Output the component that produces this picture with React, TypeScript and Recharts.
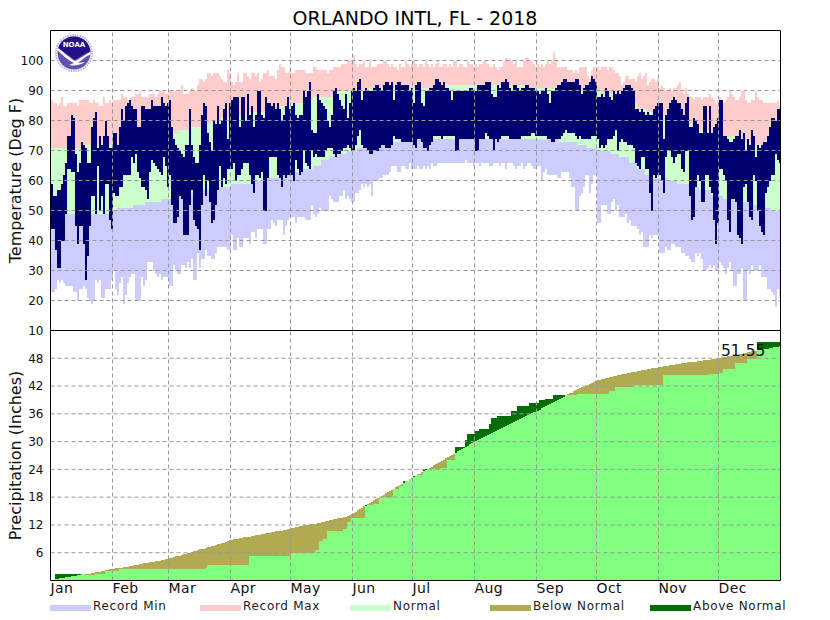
import React from "react";
import { Area, ComposedChart, ReferenceLine, XAxis, YAxis } from "recharts";

const monthLabels = ["Jan", "Feb", "Mar", "Apr", "May", "Jun", "Jul", "Aug", "Sep", "Oct", "Nov", "Dec"];
const monthStarts = [0, 31, 59, 90, 120, 151, 181, 212, 243, 273, 304, 334];
const tempTicks = [10, 20, 30, 40, 50, 60, 70, 80, 90, 100];
const precipTicks = [6, 12, 18, 24, 30, 36, 42, 48];
const legendLabels = ["Record Min", "Record Max", "Normal", "Below Normal", "Above Normal"];

// daily values, one line per month
const recordMax = [
  87,86,86,85,86,88,85,85,86,86,86,86,86,85,87,87,87,87,87,86,86,87,86,86,85,85,88,86,86,87,86,
  87,87,87,87,89,88,88,87,87,88,88,89,89,90,88,88,88,88,89,89,89,88,89,90,90,90,89,89,
  90,90,90,90,90,90,92,89,89,89,90,91,90,90,92,94,94,93,94,96,96,95,96,96,96,95,94,93,93,97,96,
  93,92,93,96,93,93,96,96,95,94,96,96,95,96,93,94,96,96,97,95,95,95,94,97,99,98,98,96,96,97,
  96,96,97,97,97,97,97,96,96,96,96,98,98,97,97,97,97,97,96,97,97,98,98,98,98,99,99,99,100,100,100,
  102,99,98,99,99,100,98,98,100,98,98,98,99,99,99,100,100,99,98,99,98,98,97,99,98,98,100,99,98,99,
  100,99,98,99,99,98,100,99,98,99,98,99,100,98,98,99,99,98,99,98,100,100,98,99,99,98,98,100,99,99,98,
  99,98,99,99,100,100,99,98,98,99,98,97,98,98,100,101,100,101,100,99,100,98,98,98,100,101,101,100,100,99,98,
  99,98,99,98,99,100,99,100,103,101,98,98,98,98,98,97,97,97,96,97,96,98,98,98,98,95,94,97,98,97,
  98,97,98,98,98,97,98,98,97,96,96,95,92,93,95,95,94,94,94,93,95,96,94,95,96,92,93,94,94,93,94,
  91,92,91,90,90,91,90,91,91,92,93,90,89,91,89,88,88,87,88,88,88,87,88,88,88,89,88,87,86,87,
  88,87,86,87,88,90,89,88,87,87,88,90,90,87,86,86,87,87,90,88,87,87,86,86,86,86,86,86,86,87,85,
];
const recordMin = [
  23,23,24,27,26,27,26,25,25,25,25,23,23,20,24,24,25,24,21,20,19,20,27,26,27,21,21,24,24,24,27,
  30,24,22,26,28,19,22,26,28,29,29,20,20,20,28,25,27,33,33,33,30,29,28,29,27,28,28,28,
  25,25,32,30,29,29,32,32,31,33,31,34,27,27,36,31,34,34,37,35,35,34,34,36,38,38,38,38,38,37,37,
  42,37,37,41,38,38,41,41,41,39,43,43,41,44,44,44,39,39,44,44,47,46,45,47,47,47,42,45,47,48,
  48,48,46,48,48,48,48,47,47,47,52,49,48,49,51,50,50,50,50,55,54,53,53,53,55,55,57,54,55,54,53,
  53,56,56,57,59,58,59,58,59,55,60,60,60,61,61,62,62,62,63,65,65,65,63,63,65,65,64,64,66,64,
  64,64,65,64,64,65,64,65,64,66,65,65,66,66,66,66,66,66,66,66,66,66,66,66,66,66,67,66,66,66,65,
  66,66,65,66,66,66,66,65,65,66,66,66,65,66,66,64,66,66,66,65,64,65,65,66,64,65,66,66,65,64,64,
  65,65,60,63,64,62,62,62,62,62,61,61,63,63,63,63,61,58,58,50,50,55,56,58,62,62,56,59,62,62,
  46,46,52,52,52,49,49,53,54,50,52,48,48,48,49,46,47,45,45,45,44,42,43,38,38,38,42,41,42,42,42,
  36,36,36,38,37,37,39,39,38,38,38,36,36,35,35,34,33,33,36,35,36,34,30,30,31,32,31,32,30,30,
  33,32,31,29,31,33,30,25,25,29,29,31,20,20,30,29,32,30,30,30,32,28,28,28,24,24,23,22,18,24,21,
];
const observedHigh = [
  59,55,55,57,57,59,62,66,75,75,82,81,69,63,66,73,72,71,66,66,78,81,83,71,75,72,75,80,75,71,71,
  76,76,72,78,84,80,85,86,87,85,84,84,78,78,85,85,84,84,84,87,85,85,85,85,88,86,85,86,
  87,78,74,72,71,70,69,68,72,72,84,72,68,66,66,72,82,86,85,76,73,70,80,79,85,79,80,84,86,74,86,
  87,88,88,88,78,88,88,80,89,82,85,78,82,90,90,82,81,88,86,86,85,86,84,86,84,80,82,85,88,84,
  85,86,82,81,82,82,90,88,90,93,77,76,76,89,87,86,85,84,80,78,82,90,91,89,87,85,84,89,81,86,90,
  91,90,93,94,87,90,91,90,90,90,91,92,92,91,90,92,93,93,92,93,87,92,93,93,92,92,92,92,90,91,
  86,92,93,93,86,85,90,90,91,91,92,94,94,93,92,93,91,91,90,87,90,90,90,90,90,90,90,90,91,91,90,
  90,92,92,92,92,93,93,93,89,88,88,92,91,93,93,94,93,91,90,92,92,91,90,91,91,92,92,91,91,91,90,
  90,89,90,90,91,89,86,90,90,91,92,92,93,94,94,93,93,93,93,94,94,92,89,91,92,92,93,95,94,93,
  88,88,89,88,91,90,88,87,90,89,90,89,90,91,92,92,92,91,90,84,84,83,84,83,82,83,82,82,84,85,86,
  86,86,74,82,84,86,87,88,87,86,86,84,82,86,88,78,78,81,80,79,76,76,85,85,76,85,76,78,79,81,
  87,87,75,75,74,73,73,74,75,75,77,74,76,70,74,72,77,75,68,72,71,72,73,73,75,78,81,81,80,84,84,
];
const observedLow = [
  44,44,37,31,31,40,40,49,64,64,63,63,45,39,45,45,39,27,35,45,55,55,49,65,50,55,49,59,59,47,44,
  56,55,55,58,58,62,62,62,62,68,66,69,63,61,58,58,57,54,63,67,66,65,64,63,62,68,65,58,
  62,52,46,46,48,55,54,42,42,42,52,57,47,45,44,37,52,62,55,60,53,46,47,52,57,65,58,61,59,64,64,
  64,66,60,62,62,64,66,66,66,62,59,56,62,62,61,63,50,50,61,68,68,68,68,62,61,58,62,61,62,62,
  62,60,67,64,62,63,70,66,65,64,70,68,69,68,68,68,68,70,71,71,71,69,68,69,69,70,71,71,72,71,70,
  70,72,75,77,72,71,71,70,69,69,70,70,70,71,72,72,71,71,71,72,75,74,74,74,73,73,73,73,73,73,
  72,71,74,74,73,71,71,70,72,73,75,75,75,75,74,75,75,75,75,75,75,70,70,74,74,74,74,74,74,74,74,
  70,70,74,74,74,76,75,74,74,70,74,73,74,75,75,75,75,74,74,74,74,74,74,75,75,75,75,75,76,76,75,
  75,75,75,75,75,74,74,73,73,74,74,74,75,76,77,76,76,76,76,75,74,75,74,74,74,74,74,75,75,75,
  74,71,72,71,72,74,74,74,75,77,70,73,74,73,73,72,72,72,71,66,65,64,68,68,64,64,56,50,62,61,62,
  62,60,56,68,70,70,68,66,68,69,69,64,63,70,70,55,47,48,58,62,60,53,53,62,62,58,56,47,39,46,
  64,64,62,60,47,43,54,54,53,42,41,39,58,59,53,48,47,62,60,50,45,43,42,56,58,60,62,62,69,67,66,
];
// [last day of the step, value]
const normalHighSteps = [
  [14,71],[33,72],[40,73],[48,74],[55,75],[62,76],[68,77],[74,78],[79,79],[84,80],[91,81],[98,82],
  [106,83],[113,84],[118,85],[125,86],[130,87],[142,88],[158,90],[190,91],[238,92],[252,91],[274,90],
  [283,89],[289,88],[292,86],[297,84],[301,83],[306,82],[311,81],[316,80],[321,79],[323,78],[329,77],
  [335,76],[341,75],[345,74],[350,73],[364,72],
];
const normalLowSteps = [
  [7,50],[30,49],[32,50],[40,51],[46,52],[54,53],[59,54],[65,55],[70,56],[81,57],[89,58],[99,59],
  [107,60],[115,61],[120,62],[125,63],[130,64],[134,65],[138,67],[143,68],[147,69],[152,70],[158,71],
  [167,72],[175,73],[253,74],[262,73],[267,72],[272,71],[279,70],[283,69],[288,68],[292,66],[296,64],
  [300,62],[307,61],[312,60],[318,59],[323,58],[329,57],[335,55],[343,54],[349,53],[355,52],[359,51],[364,50],
];
const normalPrecip = [
  0.1,0.2,0.3,0.4,0.5,0.5,0.6,0.7,0.8,0.8,0.9,1.0,1.0,1.1,1.2,1.3,1.3,1.4,1.5,1.5,1.6,1.7,1.8,1.9,1.9,2.0,2.1,2.2,2.3,2.4,2.4,
  2.5,2.6,2.7,2.7,2.8,2.9,3.0,3.0,3.1,3.2,3.3,3.4,3.4,3.5,3.6,3.7,3.7,3.8,3.9,4.0,4.1,4.2,4.2,4.3,4.4,4.5,4.6,4.7,
  4.8,4.9,5.0,5.2,5.3,5.4,5.5,5.7,5.8,5.9,6.0,6.2,6.3,6.4,6.5,6.7,6.8,6.9,7.0,7.2,7.3,7.4,7.5,7.6,7.8,7.9,8.0,8.2,8.3,8.5,8.7,
  8.8,8.9,9.0,9.0,9.1,9.2,9.3,9.4,9.5,9.5,9.6,9.7,9.8,9.9,9.9,10.0,10.1,10.2,10.3,10.3,10.4,10.5,10.6,10.7,10.8,10.8,10.9,11.0,11.1,11.2,
  11.3,11.4,11.5,11.6,11.7,11.8,11.9,12.0,12.0,12.1,12.2,12.3,12.3,12.4,12.5,12.6,12.7,12.8,12.9,13.0,13.1,13.2,13.3,13.4,13.5,13.6,13.7,13.8,13.9,14.1,14.3,
  14.6,14.9,15.2,15.4,15.7,16.0,16.2,16.5,16.7,17.0,17.3,17.5,17.8,18.0,18.3,18.5,18.8,19.1,19.3,19.6,19.8,20.1,20.4,20.6,20.9,21.1,21.4,21.6,21.9,22.1,
  22.4,22.6,22.9,23.1,23.4,23.6,23.9,24.1,24.4,24.6,24.9,25.1,25.4,25.6,25.9,26.1,26.4,26.6,26.9,27.1,27.4,27.6,27.9,28.1,28.4,28.6,28.9,29.1,29.4,29.6,29.9,
  30.1,30.3,30.6,30.8,31.0,31.2,31.4,31.6,31.8,32.1,32.3,32.5,32.7,32.9,33.1,33.3,33.6,33.8,34.0,34.2,34.4,34.6,34.8,35.1,35.3,35.5,35.7,35.9,36.1,36.3,36.5,
  36.7,36.9,37.2,37.4,37.6,37.9,38.1,38.3,38.6,38.8,39.0,39.3,39.5,39.7,40.0,40.2,40.4,40.6,40.9,41.1,41.3,41.5,41.7,41.9,42.1,42.3,42.5,42.7,42.9,43.1,
  43.3,43.4,43.5,43.6,43.7,43.8,43.9,44.0,44.1,44.2,44.3,44.4,44.5,44.6,44.7,44.8,44.9,45.0,45.0,45.1,45.2,45.3,45.4,45.5,45.5,45.6,45.7,45.8,45.9,45.9,46.0,
  46.1,46.2,46.3,46.3,46.4,46.5,46.5,46.6,46.7,46.7,46.8,46.9,46.9,47.0,47.1,47.1,47.2,47.2,47.3,47.4,47.4,47.5,47.6,47.6,47.7,47.7,47.8,47.9,47.9,48.0,
  48.1,48.2,48.3,48.3,48.4,48.5,48.6,48.7,48.8,48.8,48.9,49.0,49.1,49.2,49.3,49.4,49.5,49.5,49.6,49.7,49.8,49.9,49.9,50.0,50.1,50.2,50.3,50.4,50.4,50.5,50.6,
];
const actualPrecipSteps = [
  [1,0],[16,1.3],[21,1.25],[26,1.4],[33,2.0],[76,2.45],[77,2.6],[98,3.3],[110,5.2],[119,5.4],[131,6.0],[133,6.6],
  [135,8.6],[137,8.9],[145,10.8],[147,11.2],[149,12.6],[156,13.4],[160,16.3],[163,16.6],[170,18.0],[173,19.7],[175,20.5],
  [178,21.6],[180,21.9],[182,22.5],[185,22.7],[194,24.0],[197,24.3],[201,26.1],[206,28.9],[207,30.4],[211,31.7],[213,32.4],
  [218,32.8],[219,33.7],[222,35.1],[229,35.6],[232,36.7],[238,37.6],[243,38.3],[246,39.0],[250,39.3],[262,40.0],[278,40.2],
  [281,41.0],[290,41.75],[305,42.3],[317,44.3],[328,44.4],[333,44.6],[335,44.8],[341,45.7],[347,46.9],[352,47.9],[364,51.55],
];

const stepAt = (steps: number[][], day: number) => {
  const step = steps.find((s) => day <= s[0]);
  return step ? step[1] : steps[steps.length - 1][1];
};

// one extra row so the last day keeps its full width
const dayCount = 365;
const tempRows = Array.from({ length: dayCount + 1 }, (_, i) => {
  const d = Math.min(i, dayCount - 1);
  const nh = stepAt(normalHighSteps, d);
  const nl = stepAt(normalLowSteps, d);
  return {
    day: i,
    low: [recordMin[d], nl],
    normal: [nl, nh],
    high: [nh, recordMax[d]],
    observed: [observedLow[d], observedHigh[d]],
  };
});
const precipRows = Array.from({ length: dayCount + 1 }, (_, i) => {
  const d = Math.min(i, dayCount - 1);
  const actual = stepAt(actualPrecipSteps, d);
  return { day: i, actual, normal: normalPrecip[d], both: Math.min(actual, normalPrecip[d]) };
});

const FONT = "'DejaVu Sans', sans-serif";
const GRID = "#999999";
const DASH = "4 3";
const legendColors = ["#CCCCFF", "#FFCCCC", "#CCFFCC", "#B0AA50", "#006E00"];
const legendX = [50, 200, 350, 490, 650];

const tickStyle = { fontSize: 12, fill: "#111", fontFamily: FONT };

const MonthTick = ({ x, payload }: any) => (
  <text x={x} y={263} fontSize={14} letterSpacing={0.4} fill="#111" fontFamily={FONT} textAnchor="start">
    {monthLabels[monthStarts.indexOf(payload.value)]}
  </text>
);

const stepArea = (key: string, color: string) => (
  <Area
    key={key}
    yAxisId="left"
    dataKey={key}
    type="stepAfter"
    stroke="none"
    fill={color}
    fillOpacity={1}
    dot={false}
    activeDot={false}
    isAnimationActive={false}
    shapeRendering="crispEdges"
  />
);

const gridLines = (ticks: number[]) => [
  ...ticks.map((t) => (
    <ReferenceLine key={"h" + t} yAxisId="left" y={t} stroke={GRID} strokeDasharray={DASH} />
  )),
  ...monthStarts.slice(1).map((m) => (
    <ReferenceLine key={"v" + m} yAxisId="left" x={m} stroke={GRID} strokeDasharray={DASH} />
  )),
];

const axisLabel = (value: string) => ({
  value,
  angle: -90,
  position: "insideLeft" as const,
  dx: 10,
  style: { fontSize: 16, fill: "#111", fontFamily: FONT, textAnchor: "middle" as const },
});

const NoaaLogo = () => (
  <svg width={40} height={40} viewBox="0 0 40 40" style={{ position: "absolute", left: 54, top: 33 }}>
    <defs>
      <clipPath id="noaaDisc">
        <circle cx={20} cy={20} r={16.5} />
      </clipPath>
    </defs>
    <circle cx={20} cy={20} r={19.5} fill="#fff" />
    <circle cx={20} cy={20} r={18} fill="none" stroke="#B9B4DC" strokeWidth={2} strokeDasharray="1.5 1" />
    <g clipPath="url(#noaaDisc)">
      <rect x={0} y={0} width={40} height={40} fill="#6350B4" />
      <path d="M2 2H38V18C33 19 27 23 21 27C15 23 8 17 2 15Z" fill="#22108C" />
      <path d="M3 14C9 18 15 25 21 28C27 25 32 21 38 18L38 21C32 23 28 27 24 30L31 29C27 32 20 33 15 32L20 30C13 27 8 21 3 17Z" fill="#fff" />
    </g>
    <text x={20} y={14} textAnchor="middle" fontSize={7} fontWeight="bold" fill="#fff" fontFamily={FONT}>
      NOAA
    </text>
  </svg>
);

export default function App() {
  return (
    <div style={{ position: "absolute", left: 0, top: 0, width: 830, height: 620, overflow: "hidden", background: "#fff", fontFamily: FONT }}>
      <div style={{ position: "absolute", left: 0, width: 830, top: 7, textAlign: "center", fontSize: 19, lineHeight: "22px", color: "#000" }}>
        ORLANDO INTL, FL - 2018
      </div>

      <div style={{ position: "absolute", left: 0, top: 0 }}>
        <ComposedChart width={831} height={345} data={tempRows} margin={{ top: 30.5, right: 0.5, bottom: 14.5, left: 0.5 }}>
          <XAxis dataKey="day" type="number" domain={[0, dayCount]} ticks={monthStarts} tick={false} tickSize={0} height={0} axisLine={{ stroke: "#000" }} />
          <YAxis yAxisId="left" width={50} domain={[10, 110]} ticks={tempTicks} interval={0} tick={tickStyle} tickSize={0} tickMargin={7} axisLine={{ stroke: "#000" }} label={axisLabel("Temperature (Deg F)")} />
          <YAxis yAxisId="right" orientation="right" width={50} domain={[10, 110]} ticks={tempTicks} interval={0} tick={tickStyle} tickSize={0} tickMargin={7} axisLine={{ stroke: "#000" }} />
          {stepArea("low", "#CCCCFF")}
          {stepArea("normal", "#CCFFCC")}
          {stepArea("high", "#FFCCCC")}
          {stepArea("observed", "#000070")}
          {gridLines(tempTicks.slice(1))}
          <ReferenceLine yAxisId="left" y={110} stroke="#000" />
          <ReferenceLine yAxisId="left" y={10} stroke="#000" />
        </ComposedChart>
      </div>

      <div style={{ position: "absolute", left: 0, top: 330 }}>
        <ComposedChart width={831} height={290} data={precipRows} margin={{ top: 0.5, right: 0.5, bottom: 0, left: 0.5 }}>
          <XAxis dataKey="day" type="number" domain={[0, dayCount]} ticks={monthStarts} interval={0} tick={MonthTick} tickSize={0} height={39.5} axisLine={{ stroke: "#000" }} />
          <YAxis yAxisId="left" width={50} domain={[0, 54]} ticks={precipTicks} interval={0} tick={tickStyle} tickSize={0} tickMargin={7} axisLine={{ stroke: "#000" }} label={axisLabel("Precipitation (Inches)")} />
          <YAxis yAxisId="right" orientation="right" width={50} domain={[0, 54]} ticks={precipTicks} interval={0} tick={tickStyle} tickSize={0} tickMargin={7} axisLine={{ stroke: "#000" }} />
          {stepArea("actual", "#006E00")}
          {stepArea("normal", "#B0AA50")}
          {stepArea("both", "#80FF80")}
          {gridLines(precipTicks)}
        </ComposedChart>
      </div>

      <div style={{ position: "absolute", left: 721, top: 342, fontSize: 15.5, lineHeight: "18px", color: "#111" }}>51.55</div>

      <NoaaLogo />

      {legendLabels.map((label, i) => (
        <React.Fragment key={label}>
          <div style={{ position: "absolute", left: legendX[i], top: 605, width: 41, height: 6, background: legendColors[i] }} />
          <div style={{ position: "absolute", left: legendX[i] + 43, top: 598, fontSize: 12, lineHeight: "16px", letterSpacing: 0.7, color: "#222", whiteSpace: "nowrap" }}>
            {label}
          </div>
        </React.Fragment>
      ))}
    </div>
  );
}
